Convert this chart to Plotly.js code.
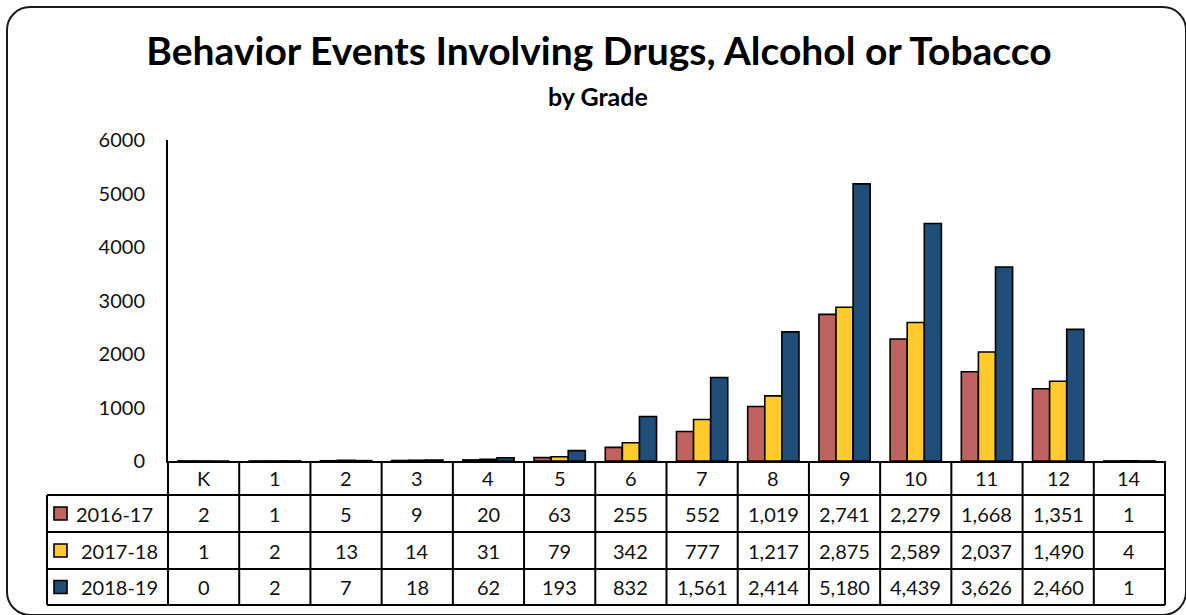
<!DOCTYPE html>
<html><head><meta charset="utf-8">
<script src="https://cdn.plot.ly/plotly-3.0.1.min.js"></script>
<style>
html,body{margin:0;padding:0;background:#fff;}
#wrap{position:relative;width:1186px;height:615px;overflow:hidden;}
#chart{width:1186px;height:615px;}
#frame{position:absolute;left:6px;top:6px;width:1181px;height:610px;border:2px solid #1a1a1a;border-radius:24px;box-sizing:border-box;pointer-events:none;}
</style></head>
<body><div id="wrap"><div id="chart"></div><div id="frame"></div></div>
<script>
// ---- data ----
const grades = ['K','1','2','3','4','5','6','7','8','9','10','11','12','14'];
const seriesNames = ['2016-17','2017-18','2018-19'];
const v2016 = [2,1,5,9,20,63,255,552,1019,2741,2279,1668,1351,1];
const v2017 = [1,2,13,14,31,79,342,777,1217,2875,2589,2037,1490,4];
const v2018 = [0,2,7,18,62,193,832,1561,2414,5180,4439,3626,2460,1];
const yTicks = [0,1000,2000,3000,4000,5000,6000];
const chartTitle = 'Behavior Events Involving Drugs, Alcohol or Tobacco';
const chartSubtitle = 'by Grade';

// ---- styling / layout ----
const colors = ['#C0625F','#FFCA2C','#1F4E79'];
const allValues = [v2016, v2017, v2018];
const W = 1186, H = 615;
const L = 168, R = 1165, T = 140, B = 461;
const PW = R - L, PH = B - T;
const tableLeft = 47;
const rowEdges = [461, 495, 532, 569, 605];
const FONT = 'Lato, "Open Sans", sans-serif';
const TXT = '#111';
const px2x = p => (p - L) / PW;
const px2y = p => (B - p) / PH;
const fmt = n => n.toLocaleString('en-US');

const traces = allValues.map((vals, s) => ({
  type: 'bar', x: grades, y: vals, name: seriesNames[s],
  marker: {color: colors[s], line: {color: '#000', width: 1.6}},
  showlegend: false, hoverinfo: 'x+y+name'
}));

const shapes = [];
const line = {color: '#000', width: 2};
// horizontal table lines
for (let r = 1; r < rowEdges.length; r++) {
  shapes.push({type: 'line', xref: 'paper', yref: 'paper',
    x0: px2x(tableLeft), x1: 1, y0: px2y(rowEdges[r]), y1: px2y(rowEdges[r]), line});
}
// vertical category boundaries
for (let i = 0; i <= grades.length; i++) {
  const s = {type: 'line', yref: 'paper', y0: 0, y1: px2y(rowEdges[rowEdges.length-1]), line};
  if (i === 0) { s.xref = 'x domain'; s.x0 = s.x1 = 0; }
  else if (i === grades.length) { s.xref = 'x domain'; s.x0 = s.x1 = 1; }
  else { s.xref = 'x'; s.x0 = s.x1 = i - 0.5; }
  shapes.push(s);
}
// left edge of series-label column
shapes.push({type: 'line', xref: 'paper', yref: 'paper', x0: px2x(tableLeft), x1: px2x(tableLeft),
  y0: px2y(rowEdges[1]), y1: px2y(rowEdges[rowEdges.length-1]), line});

const annotations = [];
// header row (x given as category index)
grades.forEach((g, i) => annotations.push({x: i, xref: 'x', y: px2y((rowEdges[0]+rowEdges[1])/2), yref: 'paper',
  text: g, showarrow: false, xanchor: 'center', yanchor: 'middle', font: {family: FONT, size: 20, color: TXT}}));
// data rows
const labelStart = [74, 79, 79];
allValues.forEach((vals, s) => {
  const cy = (rowEdges[s+1] + rowEdges[s+2]) / 2;
  vals.forEach((v, i) => annotations.push({x: i, xref: 'x', y: px2y(cy), yref: 'paper',
    text: fmt(v), showarrow: false, xanchor: 'center', yanchor: 'middle', font: {family: FONT, size: 20, color: TXT}}));
  annotations.push({x: px2x(labelStart[s]), xref: 'paper', y: px2y(cy), yref: 'paper', text: seriesNames[s],
    showarrow: false, xanchor: 'left', yanchor: 'middle', font: {family: FONT, size: 20, color: TXT}});
  shapes.push({type: 'rect', xref: 'paper', yref: 'paper', x0: px2x(54), x1: px2x(67),
    y0: px2y(cy - 6.5), y1: px2y(cy + 6.5), fillcolor: colors[s], line: {color: '#000', width: 1.6}});
});
// subtitle
annotations.push({x: px2x(598), xref: 'paper', y: px2y(96), yref: 'paper', text: '<b>' + chartSubtitle + '</b>',
  showarrow: false, xanchor: 'center', yanchor: 'middle', font: {family: FONT, size: 25, color: '#000'}});

const layout = {
  width: W, height: H,
  margin: {l: L, r: W - R, t: T, b: H - B, pad: 0},
  paper_bgcolor: '#fff', plot_bgcolor: '#fff',
  font: {family: FONT, color: TXT},
  title: {text: '<b>' + chartTitle + '</b>', font: {family: FONT, size: 39, color: '#000'},
    xref: 'container', x: 599 / W, xanchor: 'center', yref: 'container', y: 1 - 51 / H, yanchor: 'middle'},
  barmode: 'group', bargap: 0.28, bargroupgap: 0,
  xaxis: {type: 'category', range: [-0.5, grades.length - 0.5], showline: true, linecolor: '#000', linewidth: 2,
    showticklabels: false, ticks: '', showgrid: false, zeroline: false, fixedrange: true},
  yaxis: {range: [0, 6000], tickvals: yTicks, ticktext: yTicks.map(String), showline: true, linecolor: '#000', linewidth: 2,
    ticks: '', showgrid: false, zeroline: false, tickfont: {family: FONT, size: 20, color: TXT},
    ticklabelstandoff: 17, fixedrange: true},
  shapes, annotations
};
Plotly.newPlot('chart', traces, layout, {displayModeBar: false, staticPlot: true});
</script></body></html>
